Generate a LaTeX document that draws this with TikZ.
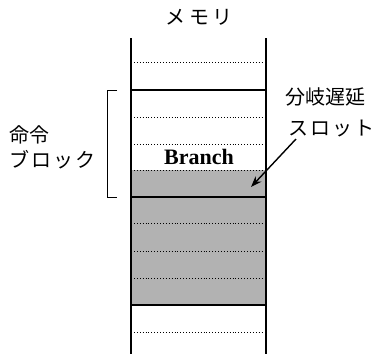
\documentclass[tikz,border=0pt]{standalone}
\usepackage{fontspec}
\setmainfont{Liberation Serif}
\newfontfamily\jp{Noto Sans CJK JP}
\usetikzlibrary{arrows.meta}
\tikzset{
  wall/.style={line width=2.6pt},
  divider/.style={line width=2.4pt},
  sep/.style={line width=0.9pt, dotted},
  shade/.style={fill=black!30},
  jlabel/.style={font=\jp\fontsize{20}{24}\selectfont, inner sep=0pt},
}
\begin{document}
\begin{tikzpicture}[x=1pt,y=-1pt]
\useasboundingbox (0,0) rectangle (376,354);
% shaded area
\fill[shade] (131,170) rectangle (266,305);
% dotted separators
\foreach \yy in {62,117,144,170,223,251,278,332}
  \draw[sep] (134,\yy) -- (264,\yy);
% thick dividers
\foreach \yy in {90,197,305}
  \draw[divider] (131,\yy) -- (266,\yy);
% walls
\draw[wall] (131,38) -- (131,354);
\draw[wall] (266,38) -- (266,354);
% labels
\node[jlabel] (mem) at (199,17) {メ\hspace{4pt}モ\hspace{4pt}リ};
\node[font=\bfseries\fontsize{22}{26}\selectfont, inner sep=0pt] (br) at (199,157) {Branch};
\node[jlabel, anchor=west] (blk1) at (9,135) {命令};
\node[jlabel, anchor=west] (blk2) at (9,160) {ブ\hspace{2pt}ロ\hspace{2pt}ッ\hspace{2pt}ク};
\node[jlabel, anchor=west] (slot1) at (285,97) {分岐遅延};
\node[jlabel, anchor=west] (slot2) at (288,129) {ス\hspace{2pt}ロ\hspace{2pt}ッ\hspace{2pt}ト};
% bracket
\draw[line width=0.9pt] (117,90) -- (107,90) -- (107,197) -- (117,197);
% arrow
\coordinate (atail) at (296,139);
\coordinate (ahead) at (251,187);
\draw[line width=1.4pt, -{Stealth[length=11pt,width=8pt]}] (atail) -- (ahead);
\end{tikzpicture}
\end{document}
